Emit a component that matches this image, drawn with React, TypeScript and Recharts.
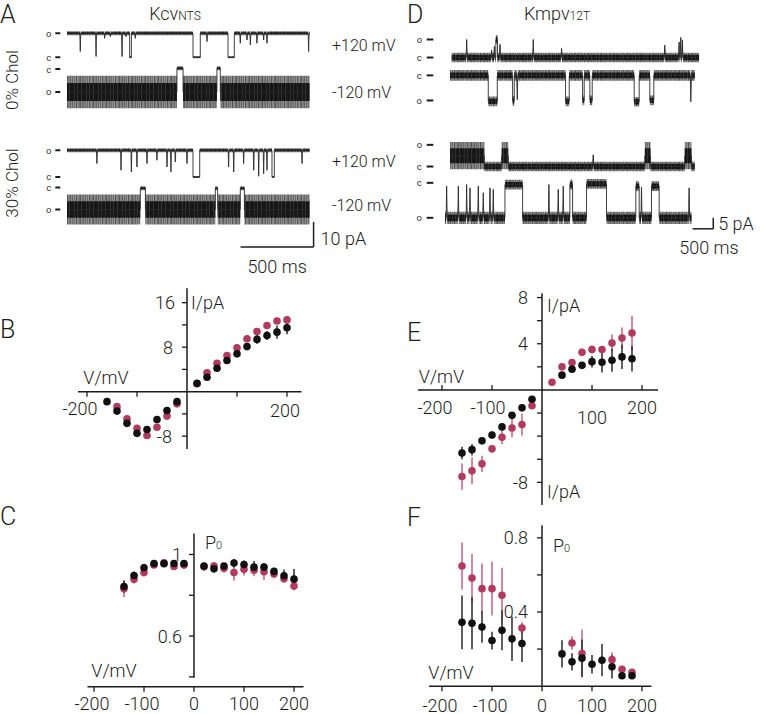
import React from "react";
import {
  ComposedChart,
  ScatterChart,
  Scatter,
  ErrorBar,
  XAxis,
  YAxis,
  Area,
  Line,
  ReferenceLine,
  ReferenceDot,
} from "recharts";

const FONT = "Roboto, 'Liberation Sans', Arial, sans-serif";
const INK = "#1c1c1c";
const RED = "#b23a5f";
const RED_BAR = "#c4607f";

// ---------- single channel traces ----------
// segment: [from ms, to ms, level pA, noise pA]
type Seg = [number, number, number, number];
// brief event: [time ms, level reached pA]
type Spike = [number, number];

// A  Kcv NTS, 0% Chol, +120 mV
const kcv0PosSegs: Seg[] = [
  [0, 429, 9.6, 0.8], [429, 441, 0, 0.4], [441, 863, 9.6, 0.8], [863, 913, 0, 0.4],
  [913, 1103, 9.6, 0.8], [1103, 1146, 0, 0.4], [1146, 1662, 9.6, 0.8],
];
const kcv0PosSpikes: Spike[] = [
  [91, 2.3], [199, 0.3], [258, 7.6], [297, 8.3], [377, 0.3], [404, 8.3], [468, 7.6],
  [959, 6.3], [1187, 5.6], [1233, 6.9], [1256, 4.9], [1301, 5.6], [1347, 6.9], [1370, 5.6], [1655, 2.3],
];
// A  Kcv NTS, 0% Chol, -120 mV
const kcv0NegSegs: Seg[] = [
  [0, 753, -9.2, 6.5], [753, 795, 0.3, 0.8], [795, 1027, -9.2, 6.5], [1027, 1050, 0.3, 0.8], [1050, 1662, -9.2, 6.5],
];
const kcv0NegSpikes: Spike[] = [];
// A  Kcv NTS, 30% Chol, +120 mV
const kcv30PosSegs: Seg[] = [
  [0, 863, 10.7, 0.8], [863, 909, 0, 0.4], [909, 1404, 10.7, 0.8], [1404, 1420, 0, 0.4], [1420, 1662, 10.7, 0.8],
];
const kcv30PosSpikes: Spike[] = [
  [205, 5.4], [370, 2.7], [441, 2.0], [479, 4.0], [548, 5.4], [616, 6.7], [685, 4.0], [712, 2.0],
  [742, 6.0], [822, 5.4], [1107, 4.0], [1142, 2.0], [1210, 5.4], [1279, 2.7], [1313, 0.3], [1347, 1.3],
  [1370, 2.7], [1610, 5.4],
];
// A  Kcv NTS, 30% Chol, -120 mV
const kcv30NegSegs: Seg[] = [
  [0, 502, -8.8, 6], [502, 537, -0.3, 0.8], [537, 1016, -8.8, 6], [1016, 1032, -0.3, 0.8],
  [1032, 1187, -8.8, 6], [1187, 1215, -0.3, 0.8], [1215, 1662, -8.8, 6],
];
const kcv30NegSpikes: Spike[] = [];

// D  Kmpv12T, upper pair
const kmpv0PosSegs: Seg[] = [[161, 1230, 0, 2.2], [1230, 1270, 8.2, 2.0], [1270, 6153, 0, 2.2]];
const kmpv0PosSpikes: Spike[] = [
  [524, 8.2], [1129, 3.3], [1194, 5], [1331, 6], [2137, 8.2], [2823, 4.1],
  [5323, 5.6], [5669, 7], [5710, 9.1], [5750, 8],
];
const kmpv0NegSegs: Seg[] = [
  [121, 1048, 0, 2.4], [1048, 1266, -11.8, 2.2], [1266, 1637, 0, 2.4], [1637, 1677, -11.6, 2.2],
  [1677, 2919, 0, 2.4], [2919, 3008, -11.8, 2.2], [3008, 3331, 0, 2.4], [3331, 3371, -11.4, 2.2],
  [3371, 3508, 0, 2.4], [3508, 3565, -11.4, 2.2], [3565, 4581, 0, 2.4], [4581, 4702, -12, 2.2],
  [4702, 4960, 0, 2.4], [4960, 5056, -11.4, 2.2], [5056, 6048, 0, 2.4],
];
const kmpv0NegSpikes: Spike[] = [[1750, -11], [5952, -12]];
// D  Kmpv12T, lower pair
const kmpv30PosSegs: Seg[] = [
  [121, 952, 4.9, 6.2], [952, 1371, 0, 2.2], [1371, 1532, 4.9, 6.2], [1532, 4839, 0, 2.2],
  [4839, 4976, 4.9, 6.2], [4976, 5806, 0, 2.2], [5806, 5968, 4.9, 6.2], [5968, 6048, 0, 2.2],
];
const kmpv30PosSpikes: Spike[] = [[3589, 5.3]];
const kmpv30NegSegs: Seg[] = [
  [0, 1452, -15.9, 2.8], [1452, 1879, -0.8, 2.2], [1879, 3024, -15.9, 2.8], [3024, 3089, -0.8, 2.2],
  [3089, 3427, -15.9, 2.8], [3427, 3911, -0.5, 2.2], [3911, 4621, -15.9, 2.8], [4621, 4702, -1.5, 2.2],
  [4702, 5000, -15.9, 2.8], [5000, 5185, -1.5, 2.2], [5185, 5968, -15.9, 2.8],
];
const kmpv30NegSpikes: Spike[] = [
  [40, -1.5], [323, -1.5], [524, -0.8], [605, -2.3], [806, -1.5], [927, -4.5], [1089, -2.3],
  [1169, -3], [2516, -0.8], [2742, -3], [2863, -1.5], [4758, -2], [5911, -2.3],
];

// ---------- I/V and Po data: [mV, value, sem] ----------
type Pt = [number, number, number];

const bBlack: Pt[] = [
  [-160, -1.8, 0.3], [-140, -3.5, 0.3], [-120, -5.7, 0.3], [-100, -7.5, 0.3], [-80, -6.8, 0.3],
  [-60, -5.0, 0.3], [-40, -3.4, 0.3], [-20, -1.8, 0.3], [20, 1.5, 0.3], [40, 2.6, 0.3],
  [60, 4.2, 0.3], [80, 5.6, 0.3], [100, 6.8, 0.4], [120, 8.1, 0.4], [140, 9.4, 0.8],
  [160, 10.1, 0.8], [180, 10.7, 1.2], [200, 11.5, 1.2],
];
const bRed: Pt[] = [
  [-140, -2.7, 0.3], [-120, -4.9, 0.3], [-100, -6.6, 0.3], [-80, -7.9, 0.3], [-60, -6.4, 0.3],
  [-40, -4.4, 0.3], [-20, -2.2, 0.3], [20, 1.4, 0.2], [40, 3.4, 0.3], [60, 5.1, 0.3],
  [80, 6.5, 0.3], [100, 7.9, 0.3], [120, 9.5, 0.3], [140, 10.8, 0.3], [160, 11.9, 0.3],
  [180, 12.7, 0.3], [200, 12.9, 0.3],
];

const cBlack: Pt[] = [
  [-140, 0.843, 0.03], [-120, 0.897, 0.02], [-100, 0.935, 0.02], [-80, 0.956, 0.01], [-60, 0.955, 0.01],
  [-40, 0.956, 0.01], [-20, 0.956, 0.01], [20, 0.943, 0.01], [40, 0.93, 0.02], [60, 0.943, 0.01],
  [80, 0.958, 0.02], [100, 0.951, 0.02], [120, 0.938, 0.03], [140, 0.938, 0.02], [160, 0.917, 0.015],
  [180, 0.896, 0.03], [200, 0.879, 0.05],
];
const cRed: Pt[] = [
  [-140, 0.832, 0.04], [-120, 0.878, 0.02], [-100, 0.912, 0.02], [-80, 0.949, 0.01], [-60, 0.959, 0.01],
  [-40, 0.941, 0.01], [-20, 0.948, 0.01], [20, 0.94, 0.02], [40, 0.943, 0.02], [60, 0.932, 0.02],
  [80, 0.912, 0.04], [100, 0.927, 0.03], [120, 0.923, 0.03], [140, 0.915, 0.04], [160, 0.904, 0.02],
  [180, 0.881, 0.02], [200, 0.845, 0.02],
];

const eBlack: Pt[] = [
  [-160, -5.46, 0.55], [-140, -5.17, 0.5], [-120, -4.4, 0.3], [-100, -3.9, 0.3], [-80, -3.2, 0.3],
  [-60, -2.2, 0.2], [-40, -1.55, 0.2], [-20, -0.8, 0.2], [40, 1.28, 0.2], [60, 1.8, 0.2],
  [80, 2.13, 0.3], [100, 2.45, 0.5], [120, 2.4, 0.9], [140, 2.57, 1.0], [160, 2.86, 1.05], [180, 2.7, 1.1],
];
const eRed: Pt[] = [
  [-160, -7.5, 1.14], [-140, -7.0, 1.17], [-120, -6.4, 0.7], [-100, -5.1, 0.3], [-80, -4.1, 0.6],
  [-60, -3.3, 0.8], [-40, -3.0, 0.95], [-20, -1.37, 0.2], [20, 0.67, 0.1], [40, 2.0, 0.2],
  [60, 2.37, 0.2], [80, 3.27, 0.3], [100, 3.5, 0.35], [120, 3.5, 0.3], [140, 4.06, 0.75],
  [160, 4.5, 0.9], [180, 4.93, 1.5],
];

const fBlack: Pt[] = [
  [-160, 0.344, 0.145], [-140, 0.339, 0.14], [-120, 0.319, 0.085], [-100, 0.246, 0.048], [-80, 0.301, 0.108],
  [-60, 0.255, 0.12], [-40, 0.23, 0.1], [40, 0.174, 0.074], [60, 0.131, 0.047], [80, 0.151, 0.1],
  [100, 0.118, 0.05], [120, 0.14, 0.087], [140, 0.104, 0.063], [160, 0.056, 0.01], [180, 0.056, 0.01],
];
const fRed: Pt[] = [
  [-160, 0.648, 0.127], [-140, 0.583, 0.13], [-120, 0.526, 0.135], [-100, 0.526, 0.145], [-80, 0.49, 0.148],
  [-40, 0.314, 0.03], [60, 0.233, 0.036], [80, 0.176, 0.13], [140, 0.143, 0.04], [160, 0.091, 0.015],
  [180, 0.075, 0.01],
];

// ---------- helpers ----------
function buildTrace(segs: Seg[], spikes: Spike[], w: number) {
  const rows: { t: number; y: number; outer: number[]; inner: number[] }[] = [];
  const push = (t: number, y: number, n: number) =>
    rows.push({ t, y, outer: [y - n, y + n], inner: [y - n * 0.55, y + n * 0.55] });
  segs.forEach(([t0, t1, lvl, n]) => {
    push(t0, lvl, n);
    spikes
      .filter(([ts]) => ts > t0 && ts < t1)
      .forEach(([ts, d]) => {
        push(ts - w, lvl, n);
        push(ts, d, n * 0.4);
        push(ts + w, lvl, n);
      });
    push(t1, lvl, n);
  });
  return rows;
}

const toRows = (pts: Pt[]) => pts.map(([v, i, e]) => ({ v, i, e }));

const lab = (
  key: string, x: number, y: number, content: React.ReactNode,
  dx = 0, dy = 0, anchor: "start" | "middle" | "end" = "middle", size = 18,
) => (
  <ReferenceDot
    key={key} x={x} y={y} r={0} ifOverflow="visible"
    shape={(p: any) => (
      <text x={p.cx + dx} y={p.cy + dy} textAnchor={anchor} dominantBaseline="central"
        fontFamily={FONT} fontSize={size} fontWeight={300} fill={INK}>
        {content}
      </text>
    )}
  />
);

const tick = (x: number, y: number, dir: "down" | "up" | "left") => (
  <ReferenceDot
    key={`t${dir}${x}_${y}`} x={x} y={y} r={0} ifOverflow="visible"
    shape={(p: any) => (
      <line x1={p.cx} y1={p.cy}
        x2={p.cx + (dir === "left" ? -5 : 0)}
        y2={p.cy + (dir === "down" ? 5 : dir === "up" ? -5 : 0)}
        stroke={INK} strokeWidth={1.3} />
    )}
  />
);

const seg = (key: string, a: [number, number], b: [number, number], w = 1.5) => (
  <ReferenceLine key={key} segment={[{ x: a[0], y: a[1] }, { x: b[0], y: b[1] }]}
    stroke={INK} strokeWidth={w} ifOverflow="visible" />
);

type Geom = { x0: number; pxT: number; pxA: number; textGap: number; dash: [number, number] };
const GA: Geom = { x0: 66.7, pxT: 0.146, pxA: 2.5, textGap: 18.4, dash: [11.7, 6.7] };
const GD: Geom = { x0: 445, pxT: 0.0413, pxA: 2.2, textGap: 25.7, dash: [18.3, 11.7] };

function Trace({ segs, spikes, g, y0, t1, w, levels, children }: {
  segs: Seg[]; spikes: Spike[]; g: Geom; y0: number; t1: number; w: number;
  levels: [string, number][]; children?: React.ReactNode;
}) {
  const rows = buildTrace(segs, spikes, w);
  const lo = Math.min(...rows.map((r) => r.outer[0])) - 0.5;
  const hi = Math.max(...rows.map((r) => r.outer[1])) + 0.5;
  const width = t1 * g.pxT;
  const height = (hi - lo) * g.pxA;
  return (
    <div style={{ position: "absolute", left: g.x0, top: y0 - hi * g.pxA }}>
      <ComposedChart width={width} height={height} data={rows} margin={{ top: 0, right: 0, bottom: 0, left: 0 }}>
        <XAxis type="number" dataKey="t" domain={[0, t1]} hide />
        <YAxis type="number" domain={[lo, hi]} hide />
        <Area dataKey="outer" type="linear" stroke="none" fill="url(#noiseOuter)" fillOpacity={1} isAnimationActive={false} />
        <Area dataKey="inner" type="linear" stroke="none" fill="url(#noiseInner)" fillOpacity={1} isAnimationActive={false} />
        <Line dataKey="y" type="linear" stroke="#2a2a2a" strokeWidth={0.9} dot={false} isAnimationActive={false} />
        {levels.map(([name, v]) => (
          <ReferenceDot
            key={name + v} x={0} y={v} r={0} ifOverflow="visible"
            shape={(p: any) => (
              <g>
                <text x={p.cx - g.textGap} y={p.cy} textAnchor="middle" dominantBaseline="central"
                  fontFamily={FONT} fontSize={9.5} fill="#333">{name}</text>
                <line x1={p.cx - g.dash[0]} x2={p.cx - g.dash[1]} y1={p.cy} y2={p.cy} stroke={INK} strokeWidth={2} />
              </g>
            )}
          />
        ))}
        {children}
      </ComposedChart>
    </div>
  );
}

type Cfg = { x0px: number; xs: number; yRef: number; yPx: number; ys: number; xDom: [number, number]; yDom: [number, number] };

function Panel({ cfg, black, red, children }: { cfg: Cfg; black: Pt[]; red: Pt[]; children?: React.ReactNode }) {
  const left = cfg.x0px + cfg.xDom[0] * cfg.xs;
  const width = (cfg.xDom[1] - cfg.xDom[0]) * cfg.xs;
  const top = cfg.yPx - (cfg.yDom[1] - cfg.yRef) * cfg.ys;
  const height = (cfg.yDom[1] - cfg.yDom[0]) * cfg.ys;
  const dot = (fill: string) => (p: any) => <circle cx={p.cx} cy={p.cy} r={3.8} fill={fill} />;
  return (
    <div style={{ position: "absolute", left, top }}>
      <ScatterChart width={width} height={height} margin={{ top: 0, right: 0, bottom: 0, left: 0 }}>
        <XAxis type="number" dataKey="v" domain={cfg.xDom} hide />
        <YAxis type="number" dataKey="i" domain={cfg.yDom} hide />
        {children}
        <Scatter data={toRows(red)} shape={dot(RED)} isAnimationActive={false}>
          <ErrorBar dataKey="e" direction="y" width={0} stroke={RED_BAR} strokeWidth={1.5} isAnimationActive={false} />
        </Scatter>
        <Scatter data={toRows(black)} shape={dot("#111")} isAnimationActive={false}>
          <ErrorBar dataKey="e" direction="y" width={0} stroke="#2a2a2a" strokeWidth={1.5} isAnimationActive={false} />
        </Scatter>
      </ScatterChart>
    </div>
  );
}

function Txt({ x, y, children, size = 17, align = "left", rotate = false }: {
  x: number; y: number; children: React.ReactNode; size?: number; align?: "left" | "center"; rotate?: boolean;
}) {
  const tx = align === "center" ? "-50%" : "0";
  return (
    <div style={{
      position: "absolute", left: x, top: y, fontSize: size, lineHeight: 1, whiteSpace: "nowrap",
      fontWeight: 300, transform: `translate(${tx}, -50%)${rotate ? " rotate(-90deg)" : ""}`,
    }}>
      {children}
    </div>
  );
}

// texture for the recording noise band: gray fringe with dark flecks, near-black core
const outerFlecks: [number, number, string][] = [
  [0.3, 0.7, "#3c3c3c"], [1.6, 0.5, "#5a5a5a"], [2.7, 0.8, "#2b2b2b"], [4.6, 0.5, "#666"],
  [5.5, 0.7, "#333"], [7.4, 0.6, "#4a4a4a"], [8.9, 0.8, "#2f2f2f"], [10.6, 0.5, "#5e5e5e"],
  [11.8, 0.7, "#383838"],
];
const innerFlecks: [number, number, string][] = [[2.2, 0.5, "#4a4a4a"], [6.9, 0.6, "#3d3d3d"], [10.1, 0.5, "#505050"]];

function NoiseDefs() {
  return (
    <svg width={0} height={0} style={{ position: "absolute" }}>
      <defs>
        <pattern id="noiseOuter" patternUnits="userSpaceOnUse" width={13} height={60}>
          <rect x={0} y={0} width={13} height={60} fill="#a4a4a4" />
          {outerFlecks.map(([x, w, c]) => (
            <rect key={x} x={x} y={0} width={w} height={60} fill={c} />
          ))}
        </pattern>
        <pattern id="noiseInner" patternUnits="userSpaceOnUse" width={12} height={60}>
          <rect x={0} y={0} width={12} height={60} fill="#161616" />
          {innerFlecks.map(([x, w, c]) => (
            <rect key={x} x={x} y={0} width={w} height={60} fill={c} />
          ))}
        </pattern>
      </defs>
    </svg>
  );
}

const P0 = <tspan>P<tspan fontSize={11} dy={3}>0</tspan></tspan>;

const cfgB: Cfg = { x0px: 186.7, xs: 0.5, yRef: 0, yPx: 391.5, ys: 5.56, xDom: [-222, 232], yDom: [-11.5, 19] };
const cfgE: Cfg = { x0px: 542, xs: 0.5, yRef: 0, yPx: 390.3, ys: 11.55, xDom: [-252, 236], yDom: [-10.5, 9] };
const cfgC: Cfg = { x0px: 193.7, xs: 0.5, yRef: 1, yPx: 554.3, ys: 204, xDom: [-216, 222], yDom: [0.33, 1.12] };
const cfgF: Cfg = { x0px: 542, xs: 0.5, yRef: 0, yPx: 686, ys: 185.4, xDom: [-230, 222], yDom: [-0.02, 0.88] };

export default function App() {
  return (
    <div style={{
      position: "absolute", left: 0, top: 0, width: 763, height: 714, background: "#fff",
      overflow: "hidden", fontFamily: FONT, color: INK,
    }}>
      <style>{`.recharts-surface{overflow:visible}`}</style>
      <NoiseDefs />

      {/* panel letters and titles */}
      <Txt x={0} y={14} size={25}>A</Txt>
      <Txt x={407} y={14} size={25}>D</Txt>
      <Txt x={0} y={329} size={25}>B</Txt>
      <Txt x={407} y={332} size={25}>E</Txt>
      <Txt x={0} y={516} size={25}>C</Txt>
      <Txt x={407} y={517} size={25}>F</Txt>
      <Txt x={175} y={14} size={18} align="center">Kcv<span style={{ fontSize: 12 }}>NTS</span></Txt>
      <Txt x={557} y={14} size={18} align="center">Kmpv<span style={{ fontSize: 12 }}>12T</span></Txt>
      <Txt x={12} y={80} size={17} align="center" rotate>0% Chol</Txt>
      <Txt x={12} y={183} size={17} align="center" rotate>30% Chol</Txt>
      <Txt x={332} y={46} size={16}>+120 mV</Txt>
      <Txt x={332} y={93} size={16}>-120 mV</Txt>
      <Txt x={332} y={162} size={16}>+120 mV</Txt>
      <Txt x={332} y={206} size={16}>-120 mV</Txt>

      {/* A traces */}
      <Trace segs={kcv0PosSegs} spikes={kcv0PosSpikes} g={GA} y0={57.3} t1={1662} w={3} levels={[["o", 9.6], ["c", 0]]} />
      <Trace segs={kcv0NegSegs} spikes={kcv0NegSpikes} g={GA} y0={69.3} t1={1662} w={3} levels={[["c", 0], ["o", -9.2]]} />
      <Trace segs={kcv30PosSegs} spikes={kcv30PosSpikes} g={GA} y0={176.7} t1={1662} w={3} levels={[["o", 10.7], ["c", 0]]} />
      <Trace segs={kcv30NegSegs} spikes={kcv30NegSpikes} g={GA} y0={187.3} t1={1662} w={3} levels={[["c", 0], ["o", -8.8]]}>
        {seg("sbA-h", [1189, -23.8], [1689, -23.8])}
        {seg("sbA-v", [1689, -23.8], [1689, -13.8])}
        {lab("sbA-pA", 1689, -18.8, "10 pA", 7, 4, "start", 18)}
        {lab("sbA-ms", 1439, -23.8, "500 ms", 0, 20, "middle", 18)}
      </Trace>

      {/* D traces */}
      <Trace segs={kmpv0PosSegs} spikes={kmpv0PosSpikes} g={GD} y0={57.3} t1={6153} w={12} levels={[["o", 8.2], ["c", 0]]} />
      <Trace segs={kmpv0NegSegs} spikes={kmpv0NegSpikes} g={GD} y0={75} t1={6153} w={12} levels={[["c", 0], ["o", -11.4]]} />
      <Trace segs={kmpv30PosSegs} spikes={kmpv30PosSpikes} g={GD} y0={166.7} t1={6153} w={12} levels={[["o", 9.85], ["c", 0]]} />
      <Trace segs={kmpv30NegSegs} spikes={kmpv30NegSpikes} g={GD} y0={183.3} t1={6153} w={12} levels={[["c", 0], ["o", -15.9]]}>
        {seg("sbD-h", [5996, -20.9], [6496, -20.9])}
        {seg("sbD-v", [6496, -20.9], [6496, -15.9])}
        {lab("sbD-pA", 6496, -18.4, "5 pA", 5, 0, "start", 18)}
        {lab("sbD-ms", 6246, -20.9, "500 ms", 6, 19, "middle", 18)}
      </Trace>

      {/* B: Kcv I/V */}
      <Panel cfg={cfgB} black={bBlack} red={bRed}>
        {seg("bx", [-218, 0], [229, 0])}
        {seg("by", [0, -10.3], [0, 18.6])}
        {[16, 12, 8, 4, -4, -8].map((v) => tick(0, v, "left"))}
        {[-200, -100, 100, 200].map((v) => tick(v, 0, "down"))}
        {lab("b16", 0, 16, "16", -12, 0, "end")}
        {lab("b8", 0, 8, "8", -14, 0, "end")}
        {lab("b-8", 0, -8, "-8", -15, 0, "end")}
        {lab("bI", 0, 16, "I/pA", 4, 0, "start")}
        {lab("b-200", -200, 0, "-200", -7, 17)}
        {lab("b200", 200, 0, "200", -2, 19)}
        {lab("bV", -162, 0, "V/mV", 0, -14.5)}
      </Panel>

      {/* E: Kmpv I/V */}
      <Panel cfg={cfgE} black={eBlack} red={eRed}>
        {seg("ex", [-248, 0], [232, 0])}
        {seg("ey", [0, -9.96], [0, 8.37])}
        {[8, 6, 4, 2, -2, -4, -6, -8].map((v) => tick(0, v, "left"))}
        {[-200, -100, 100, 200].map((v) => tick(v, 0, "up"))}
        {lab("e8", 0, 8, "8", -14, 0, "end")}
        {lab("e4", 0, 4, "4", -14, 0, "end")}
        {lab("e-8", 0, -8, "-8", -14, 0, "end")}
        {lab("eI1", 0, 8, "I/pA", 5, 8, "start")}
        {lab("eI2", 0, -8, "I/pA", 5, 9, "start")}
        {lab("e-200", -200, 0, "-200", -7, 17.4)}
        {lab("e-100", -100, 0, "-100", -4, 17.4)}
        {lab("e100", 100, 0, "100", 0, 27.7)}
        {lab("e200", 200, 0, "200", 0, 17.4)}
        {lab("eV", -201, 0, "V/mV", 0, -13.6)}
      </Panel>

      {/* C: Kcv Po */}
      <Panel cfg={cfgC} black={cBlack} red={cRed}>
        {seg("cx", [-213, 0.352], [219, 0.352])}
        {seg("cy", [0, 0.396], [0, 1.103])}
        {[1, 0.8, 0.6, 0.4].map((v) => tick(0, v, "left"))}
        {[-200, -100, 0, 100, 200].map((v) => tick(v, 0.352, "down"))}
        {lab("c1", 0, 1, "1", -12, 0, "end")}
        {lab("c06", 0, 0.6, "0.6", -12, 0, "end")}
        {lab("cP", 0, 1, P0, 11, -12, "start")}
        {[-200, -100, 0, 100, 200].map((v) => lab(`cx${v}`, v, 0.352, String(v), v < 0 ? -2 : 0, 16.5))}
        {lab("cV", -160, 0.4, "V/mV", 0, -6)}
      </Panel>

      {/* F: Kmpv Po */}
      <Panel cfg={cfgF} black={fBlack} red={fRed}>
        {seg("fx", [-226, 0], [219, 0])}
        {seg("fy", [0, 0], [0, 0.868])}
        {[0.8, 0.6, 0.4, 0.2].map((v) => tick(0, v, "left"))}
        {[-200, -100, 0, 100, 200].map((v) => tick(v, 0, "down"))}
        {lab("f08", 0, 0.8, "0.8", -14, 0, "end")}
        {lab("f04", 0, 0.4, "0.4", -14, 0, "end")}
        {lab("fP", 0, 0.8, P0, 11, 7, "start")}
        {[-200, -100, 0, 100, 200].map((v) => lab(`fx${v}`, v, 0, String(v), v < 0 ? -2 : 0, 19))}
        {lab("fV", -182, 0, "V/mV", 0, -14)}
      </Panel>
    </div>
  );
}
